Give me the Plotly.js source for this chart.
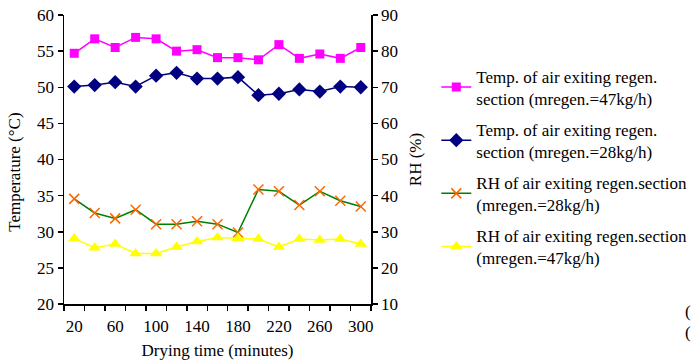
<!DOCTYPE html>
<html>
<head>
<meta charset="utf-8">
<script src="https://cdn.plot.ly/plotly-3.0.1.min.js"></script>
<style>html,body{margin:0;padding:0;background:#fff;}#chart{width:691px;height:363px;}</style>
</head>
<body>
<div id="chart"></div>
<script>
const dryingTime = [20,40,60,80,100,120,140,160,180,200,220,240,260,280,300];
const temp47 = [54.7,56.7,55.5,56.9,56.7,55.0,55.2,54.1,54.1,53.8,55.9,54.0,54.6,54.0,55.5];
const temp28 = [50.1,50.3,50.7,50.1,51.6,52.0,51.2,51.2,51.4,48.9,49.1,49.7,49.4,50.1,50.0];
const rh28 = [39.1,35.2,33.7,36.1,32.1,32.1,32.9,32.1,29.8,41.7,41.2,37.4,41.2,38.6,37.0];
const rh47 = [28.1,25.6,26.6,24.0,24.0,25.8,27.3,28.4,28.2,28.0,25.8,28.0,27.7,28.0,26.6];
const xTickLabels = [20,60,100,140,180,220,260,300];
const names = [
  'Temp. of air exiting regen.<br>section (mregen.=47kg/h)',
  'Temp. of air exiting regen.<br>section (mregen.=28kg/h)',
  'RH of air exiting regen.section<br>(mregen.=28kg/h)',
  'RH of air exiting regen.section<br>(mregen.=47kg/h)'
];

const F = 'Liberation Serif, Times New Roman, serif';
const FS = 17;
const LFS = 17;
const traces = [
  {x: dryingTime, y: temp47, name: names[0], legendgroup:'a', mode:'lines+markers',
   line:{color:'#FF00FF', width:1.5}, marker:{symbol:'square', size:9, color:'#FF00FF'}},
  {x: dryingTime, y: temp28, name: names[1], legendgroup:'b', mode:'lines+markers',
   line:{color:'#000080', width:1.5}, marker:{symbol:'diamond', size:11, color:'#000080'}},
  {x: dryingTime, y: rh28, name: names[2], legendgroup:'c', yaxis:'y2', mode:'lines+markers',
   line:{color:'#008000', width:1.5}, marker:{symbol:'x-thin-open', size:10, color:'#FF6600', line:{color:'#FF6600', width:1.5}}},
  {x: dryingTime, y: rh47, name: names[3], legendgroup:'d', yaxis:'y2', mode:'lines+markers',
   line:{color:'#FFFF00', width:1.5}, marker:{symbol:'triangle-up', size:11, color:'#FFFF00'}}
];

const layout = {
  width: 691, height: 363,
  margin: {l:64, r:320, t:15, b:59, autoexpand:false},
  paper_bgcolor:'#fff', plot_bgcolor:'#fff',
  font: {family: F, size: FS, color:'#000'},
  showlegend: true,
  legend: {x: 1.2127, xanchor:'left', y: 0.85, yanchor:'top', bgcolor:'rgba(0,0,0,0)',
           font:{family:F, size:LFS, color:'#000'}, traceorder:'grouped', tracegroupgap: 6},
  xaxis: {range:[10,310], tickmode:'array', tickvals: xTickLabels, ticktext: xTickLabels.map(String),
          ticks:'', ticklabelstandoff:6, showline:true, linecolor:'#000', linewidth:1.5, showgrid:false, zeroline:false,
          minor:{tick0:10, dtick:20, ticks:'outside', ticklen:5, tickcolor:'#000', tickwidth:1.5, showgrid:false},
          title:{text:'Drying time (minutes)', font:{family:F, size:FS}, standoff:9},
          tickfont:{family:F, size:FS}},
  yaxis: {range:[20,60], dtick:5, ticks:'outside', ticklen:5, tickwidth:1.5, tickcolor:'#000',
          showline:true, linecolor:'#000', linewidth:1.5, showgrid:false, zeroline:false,
          tickfont:{family:F, size:FS}},
  yaxis2: {range:[10,90], dtick:10, overlaying:'y', side:'right', ticks:'outside', ticklen:5, tickwidth:1.5, tickcolor:'#000',
          showline:true, linecolor:'#000', linewidth:1.5, showgrid:false, zeroline:false,
          title:{text:'RH (%)', font:{family:F, size:FS}, standoff:12},
          tickfont:{family:F, size:FS}},
  annotations: [
    {text:'Temperature (°C)', textangle:-90, xref:'paper', yref:'paper', x:-0.16, y:0.457,
     xanchor:'center', yanchor:'middle', showarrow:false, font:{family:F, size:FS}},
    {text:'(', xref:'paper', yref:'paper', x:2.016, y:-0.026, xanchor:'left', yanchor:'middle', showarrow:false, font:{family:F, size:FS}},
    {text:'(', xref:'paper', yref:'paper', x:2.016, y:-0.1, xanchor:'left', yanchor:'middle', showarrow:false, font:{family:F, size:FS}}
  ]
};
Plotly.newPlot('chart', traces, layout, {displayModeBar:false, staticPlot:true});
</script>
</body>
</html>
